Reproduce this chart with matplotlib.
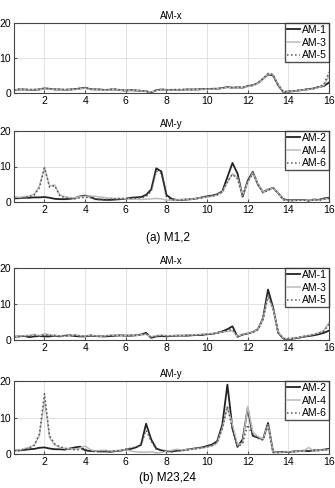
import matplotlib
matplotlib.use('Agg')
import matplotlib.pyplot as plt
import numpy as np

plt.rcParams['font.family'] = ['Liberation Sans', 'DejaVu Sans']

freq = np.arange(0.5, 16.01, 0.25)

# (a) M1,2  AM-x
am1_a = [0.8, 1.0, 1.0, 0.9, 0.9, 1.0, 1.3, 1.2, 1.0, 1.0, 0.9, 1.0, 1.1, 1.3, 1.5, 1.1,
         1.0, 1.0, 0.8, 1.0, 1.0, 0.8, 0.7, 0.8, 0.7, 0.6, 0.5, 0.1, 0.8, 1.0, 0.9, 0.9,
         0.9, 0.9, 1.0, 1.0, 1.0, 1.1, 1.1, 1.2, 1.2, 1.4, 1.7, 1.5, 1.6, 1.5, 2.0, 2.2,
         2.8, 4.0, 5.3, 5.0, 2.2, 0.3, 0.4, 0.5, 0.7, 0.9, 1.1, 1.3, 1.7, 2.0, 3.0]
am3_a = [0.9, 1.0, 0.9, 0.9, 1.0, 1.0, 1.2, 1.1, 1.0, 0.9, 0.9, 1.0, 1.0, 1.2, 1.4, 1.0,
         1.0, 0.9, 0.8, 0.9, 1.0, 0.8, 0.7, 0.7, 0.7, 0.6, 0.5, 0.2, 0.7, 0.9, 0.9, 0.8,
         0.9, 0.9, 0.9, 1.0, 1.0, 1.0, 1.1, 1.1, 1.2, 1.3, 1.6, 1.4, 1.5, 1.5, 1.9, 2.1,
         2.7, 3.9, 5.5, 5.2, 2.4, 0.4, 0.4, 0.5, 0.7, 0.9, 1.0, 1.2, 1.6, 2.2, 5.0]
am5_a = [0.9, 1.1, 1.0, 1.0, 1.0, 1.1, 1.4, 1.2, 1.1, 1.0, 1.0, 1.0, 1.1, 1.3, 1.6, 1.1,
         1.1, 1.0, 0.9, 1.0, 1.1, 0.9, 0.8, 0.8, 0.8, 0.7, 0.5, 0.2, 0.8, 1.0, 0.9, 0.9,
         1.0, 1.0, 1.0, 1.0, 1.1, 1.1, 1.2, 1.2, 1.3, 1.4, 1.7, 1.5, 1.6, 1.6, 2.0, 2.3,
         2.9, 4.1, 5.6, 5.3, 2.3, 0.3, 0.5, 0.6, 0.8, 1.0, 1.1, 1.3, 1.8, 2.4, 6.0]

# (a) M1,2  AM-y
am2_a = [1.0, 1.1, 1.2, 1.2, 1.3, 1.3, 1.4, 1.2, 0.9, 0.8, 0.8, 0.9, 1.1, 1.6, 1.8, 1.5,
         0.8, 0.7, 0.6, 0.6, 0.7, 0.8, 0.9, 1.2, 1.3, 1.4, 2.0, 3.5, 9.5, 8.6, 2.0, 0.9,
         0.6, 0.6, 0.7, 0.8, 1.0, 1.3, 1.6, 1.8, 2.2, 3.0, 7.0, 11.0, 8.0, 1.5, 6.0, 8.5,
         5.0, 2.8, 3.5, 4.0, 2.5, 0.8, 0.5, 0.5, 0.6, 0.6, 0.4, 0.7, 0.6, 1.0, 1.2]
am4_a = [1.5, 1.3, 1.5, 1.7, 2.2, 4.5, 9.8, 4.5, 4.8, 2.0, 1.5, 1.2, 1.2, 1.5, 1.6, 1.7,
         1.6, 1.4, 1.2, 1.1, 1.0, 1.0, 0.9, 0.8, 0.8, 0.7, 0.8, 0.9, 1.0, 0.9, 0.5, 0.5,
         0.6, 0.7, 0.8, 0.8, 1.0, 1.2, 1.4, 1.6, 2.0, 2.8, 5.5, 8.0, 6.8, 1.8, 5.5, 8.2,
         5.2, 2.8, 3.4, 4.0, 2.5, 0.6, 0.4, 0.4, 0.5, 0.5, 0.5, 0.6, 0.5, 0.8, 1.0]
am6_a = [1.0, 1.0, 1.2, 1.5, 2.0, 4.0, 9.6, 4.2, 4.6, 1.8, 1.2, 1.0, 0.9, 1.2, 1.3, 1.2,
         0.8, 0.7, 0.7, 0.8, 0.9, 1.0, 1.0, 1.0, 1.1, 1.2, 1.5, 3.0, 8.8, 8.0, 1.5, 0.6,
         0.5, 0.6, 0.7, 0.8, 1.0, 1.2, 1.5, 1.7, 2.0, 2.8, 5.8, 7.8, 6.5, 1.6, 5.8, 8.0,
         5.0, 2.6, 3.3, 3.9, 2.4, 0.6, 0.4, 0.4, 0.5, 0.5, 0.4, 0.6, 0.5, 0.8, 1.0]

# (b) M23,24  AM-x
am1_b = [0.9, 1.0, 1.1, 0.8, 1.0, 1.1, 1.0, 1.0, 1.2, 1.0, 1.2, 1.3, 1.1, 1.0, 1.0, 1.2,
         1.1, 1.0, 1.0, 1.1, 1.2, 1.3, 1.2, 1.2, 1.3, 1.5, 2.0, 0.6, 1.0, 1.1, 1.0, 1.1,
         1.2, 1.2, 1.2, 1.3, 1.4, 1.4, 1.6, 1.7, 2.0, 2.4, 3.0, 3.8, 0.9, 1.5, 1.8, 2.2,
         3.0, 6.0, 14.0, 9.0, 2.0, 0.4, 0.2, 0.4, 0.6, 0.9, 1.1, 1.3, 1.6, 2.0, 2.6]
am3_b = [1.0, 1.1, 1.2, 1.3, 1.6, 1.2, 1.8, 1.5, 1.3, 1.2, 1.0, 1.2, 1.5, 1.2, 1.1, 1.4,
         1.2, 1.0, 1.2, 1.4, 1.3, 1.2, 1.3, 1.4, 1.3, 1.4, 1.6, 0.9, 1.2, 1.4, 1.2, 1.2,
         1.3, 1.2, 1.4, 1.4, 1.5, 1.6, 1.7, 1.8, 2.0, 2.2, 2.4, 2.5, 1.0, 1.6, 1.9, 2.2,
         2.9, 5.8, 12.0, 8.5, 2.2, 0.5, 0.3, 0.5, 0.7, 1.0, 1.3, 1.6, 2.0, 2.6, 4.8]
am5_b = [0.9, 1.0, 1.1, 1.0, 1.3, 1.1, 1.5, 1.2, 1.2, 1.1, 1.1, 1.2, 1.3, 1.1, 1.0, 1.3,
         1.1, 1.0, 1.1, 1.2, 1.3, 1.2, 1.2, 1.3, 1.3, 1.4, 1.8, 0.7, 1.1, 1.2, 1.1, 1.1,
         1.2, 1.2, 1.3, 1.3, 1.4, 1.5, 1.6, 1.7, 1.9, 2.2, 2.6, 3.0, 0.9, 1.5, 1.8, 2.1,
         2.8, 5.5, 12.5, 8.8, 2.1, 0.4, 0.3, 0.5, 0.7, 1.0, 1.2, 1.5, 1.9, 2.5, 4.3]

# (b) M23,24  AM-y
am2_b = [1.0, 1.0, 1.1, 1.3, 1.4, 1.7, 1.8, 1.5, 1.3, 1.3, 1.2, 1.5, 1.8, 2.0, 1.0, 0.8,
         0.8, 0.7, 0.7, 0.6, 0.8, 0.9, 1.2, 1.4, 1.8, 2.5, 8.3, 4.0, 1.5, 1.0, 0.8, 0.7,
         0.9, 1.0, 1.2, 1.4, 1.6, 1.8, 2.2, 2.6, 3.5, 8.0, 19.0, 7.0, 2.0, 4.0, 12.5, 5.0,
         4.5, 4.0, 8.5, 0.5, 0.5, 0.6, 0.5, 0.7, 0.8, 0.9, 0.8, 1.0, 1.0, 1.2, 1.4]
am4_b = [1.2, 1.0, 1.5, 1.8, 2.5, 5.0, 15.0, 4.5, 2.5, 1.8, 1.5, 1.4, 1.3, 1.6, 2.2, 1.2,
         0.8, 1.0, 1.0, 0.8, 0.9, 1.0, 1.2, 0.8, 0.6, 0.5, 0.5, 0.6, 0.3, 0.4, 0.8, 1.0,
         1.3, 1.1, 1.2, 1.3, 1.5, 1.6, 1.9, 2.2, 3.0, 7.0, 13.0, 8.0, 2.5, 3.0, 13.0, 6.0,
         4.8, 4.0, 8.0, 0.5, 0.4, 0.5, 0.6, 0.6, 0.8, 0.8, 1.8, 0.8, 1.0, 1.1, 1.2]
am6_b = [0.8, 0.9, 1.2, 1.6, 2.4, 5.5, 16.5, 5.0, 2.8, 2.0, 1.6, 1.3, 1.2, 1.2, 1.3, 0.9,
         0.6, 0.7, 0.8, 0.7, 0.9, 1.0, 1.3, 1.6, 1.9, 2.4, 6.5, 3.5, 1.3, 0.9, 0.7, 0.6,
         0.8, 0.9, 1.1, 1.3, 1.5, 1.7, 2.0, 2.4, 3.2, 7.0, 13.0, 6.5, 1.8, 3.0, 8.0, 5.0,
         4.3, 3.8, 7.8, 0.4, 0.4, 0.5, 0.5, 0.6, 0.7, 0.8, 0.9, 0.9, 1.0, 1.1, 1.2]

panels = [
    ('AM-x', [am1_a, am3_a, am5_a], ['AM-1', 'AM-3', 'AM-5'], 23, 93),
    ('AM-y', [am2_a, am4_a, am6_a], ['AM-2', 'AM-4', 'AM-6'], 131, 202),
    ('AM-x', [am1_b, am3_b, am5_b], ['AM-1', 'AM-3', 'AM-5'], 268, 340),
    ('AM-y', [am2_b, am4_b, am6_b], ['AM-2', 'AM-4', 'AM-6'], 381, 454),
]
styles = [dict(color='#222222', lw=1.3, ls='-'),
          dict(color='#bbbbbb', lw=1.1, ls='-'),
          dict(color='#555555', lw=1.1, ls=':')]

W, H = 335, 488
fig = plt.figure(figsize=(W / 100, H / 100), dpi=100)

for title, series, names, top, bot in panels:
    ax = fig.add_axes([14 / W, 1 - bot / H, 315 / W, (bot - top) / H])
    for y, name, st in zip(series, names, styles):
        ax.plot(freq, y, label=name, **st)
    ax.set_xlim(0.5, 16)
    ax.set_ylim(0, 20)
    ax.set_xticks(range(2, 17, 2))
    ax.set_yticks([0, 10, 20])
    ax.grid(True, color='#dddddd', lw=0.6)
    ax.tick_params(labelsize=7.5, length=2, pad=2, direction='in', color='#555555')
    for s in ax.spines.values():
        s.set_color('#444444')
        s.set_linewidth(0.8)
    ax.set_title(title, fontsize=7, pad=3)
    leg = ax.legend(loc='upper right', fontsize=7.5, handlelength=1.2, handletextpad=0.2,
                    borderpad=0.2, labelspacing=0.25, borderaxespad=0, fancybox=False)
    leg.get_frame().set_edgecolor('#222222')
    leg.get_frame().set_linewidth(1.0)

fig.text(0.5, 1 - 238 / H, '(a) M1,2', ha='center', va='center', fontsize=8.5)
fig.text(0.5, 1 - 478 / H, '(b) M23,24', ha='center', va='center', fontsize=8.5)

fig.savefig('out.png', dpi=100)
plt.close(fig)
